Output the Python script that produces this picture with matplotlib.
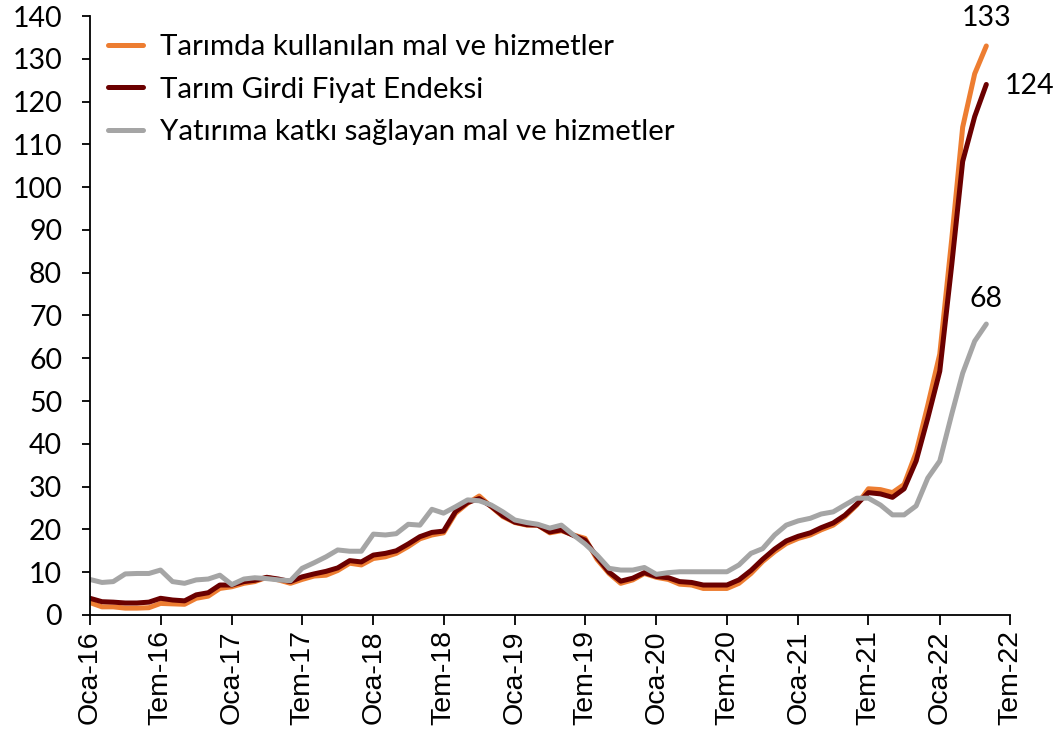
import matplotlib
matplotlib.use("Agg")
import matplotlib.pyplot as plt
import pandas as pd

# Monthly, Jan 2016 - May 2022 (annual % change)
months = pd.date_range("2016-01-01", periods=77, freq="MS")

tarimda_kullanilan = [
    2.9, 1.9, 1.9, 1.6, 1.6, 1.7, 2.7, 2.6, 2.5, 3.9, 4.4, 6.2, 6.6, 7.4, 7.8,
    8.8, 8.2, 7.4, 8.3, 9.1, 9.3, 10.4, 12.1, 11.7, 13.2, 13.6, 14.4, 16.0, 17.8,
    18.7, 19.2, 23.8, 26.1, 27.8, 25.3, 23.0, 21.6, 21.0, 21.0, 19.2, 19.7, 18.7,
    17.9, 13.0, 9.7, 7.4, 8.2, 9.7, 8.8, 8.3, 7.2, 7.0, 6.2, 6.2, 6.2, 7.4, 9.7,
    12.5, 14.8, 16.7, 17.9, 18.7, 19.9, 21.0, 23.0, 25.7, 29.5, 29.3, 28.6, 30.5,
    38.0, 49.0, 61.0, 88.0, 114.0, 126.5, 133.0,
]
tarim_gfe = [
    3.9, 3.1, 3.0, 2.8, 2.8, 3.0, 3.9, 3.5, 3.3, 4.7, 5.2, 7.0, 7.0, 7.8, 8.1,
    8.8, 8.4, 7.8, 8.9, 9.6, 10.2, 11.0, 12.7, 12.4, 14.0, 14.4, 15.0, 16.6, 18.3,
    19.3, 19.6, 24.2, 26.3, 27.2, 25.4, 23.2, 21.7, 21.1, 21.0, 19.4, 19.9, 18.6,
    17.5, 13.5, 10.0, 7.9, 8.6, 9.9, 9.0, 8.7, 7.8, 7.6, 7.0, 7.0, 7.0, 8.2, 10.4,
    13.0, 15.4, 17.3, 18.4, 19.2, 20.4, 21.5, 23.3, 25.9, 28.6, 28.3, 27.5, 29.5,
    36.0, 46.0, 57.0, 82.0, 106.0, 116.5, 124.0,
]
yatirima_katki = [
    8.3, 7.6, 7.8, 9.6, 9.7, 9.7, 10.5, 7.8, 7.4, 8.2, 8.4, 9.3, 7.1, 8.4, 8.7,
    8.5, 8.2, 8.0, 10.9, 12.2, 13.6, 15.2, 14.9, 14.9, 18.9, 18.7, 19.0, 21.2, 21.0,
    24.7, 23.8, 25.3, 26.9, 26.7, 25.7, 24.1, 22.2, 21.6, 21.2, 20.3, 21.0, 18.7,
    16.6, 14.0, 10.9, 10.5, 10.5, 11.1, 9.5, 9.9, 10.1, 10.1, 10.1, 10.1, 10.1, 11.7,
    14.4, 15.5, 18.7, 21.0, 22.0, 22.6, 23.6, 24.1, 25.7, 27.3, 27.3, 25.7, 23.4,
    23.4, 25.5, 32.0, 36.0, 47.0, 56.5, 64.0, 68.0,
]

series_names = [
    "Tarımda kullanılan mal ve hizmetler",
    "Tarım Girdi Fiyat Endeksi",
    "Yatırıma katkı sağlayan mal ve hizmetler",
]
colors = ["#ED7D31", "#6B0000", "#A5A5A5"]

tick_dates = pd.date_range("2016-01-01", "2022-07-01", freq="6MS")
tick_labels = ["Oca-16", "Tem-16", "Oca-17", "Tem-17", "Oca-18", "Tem-18", "Oca-19",
               "Tem-19", "Oca-20", "Tem-20", "Oca-21", "Tem-21", "Oca-22", "Tem-22"]

body_font = "Lato"

fig = plt.figure(figsize=(10.56, 7.38), dpi=100)
ax = fig.add_axes([0.0852, 0.1667, 0.8712, 0.8116])

for vals, name, c in zip([tarimda_kullanilan, tarim_gfe, yatirima_katki], series_names, colors):
    ax.plot(months, vals, color=c, lw=3.6, label=name, solid_capstyle="round", solid_joinstyle="round")

ax.set_xlim(tick_dates[0], tick_dates[-1])
ax.set_ylim(0, 140)
ax.set_yticks(range(0, 141, 10))
ax.set_xticks(tick_dates)
ax.set_xticklabels(tick_labels, rotation=90, fontsize=20.5, family="Liberation Sans")
for lbl in ax.get_yticklabels():
    lbl.set_family(body_font)
    lbl.set_fontsize(20.5)

for side in ["top", "right"]:
    ax.spines[side].set_visible(False)
for side in ["left", "bottom"]:
    ax.spines[side].set_linewidth(1.3)
ax.tick_params(axis="y", length=6, width=1.3, pad=14)
ax.tick_params(axis="x", length=7, width=1.3, pad=4)

# end labels
ax.annotate("133", (months[-1], tarimda_kullanilan[-1]), xytext=(0, 11), textcoords="offset points",
            ha="center", va="bottom", fontsize=20.5, family=body_font)
ax.annotate("124", (months[-1], tarim_gfe[-1]), xytext=(13, -1), textcoords="offset points",
            ha="left", va="center", fontsize=20.5, family=body_font)
ax.annotate("68", (months[-1], yatirima_katki[-1]), xytext=(0, 9), textcoords="offset points",
            ha="center", va="bottom", fontsize=20.5, family=body_font)

ax.legend(loc="upper left", bbox_to_anchor=(0.0, 1.0), frameon=False,
          prop={"family": body_font, "size": 21.2}, handlelength=1.19,
          handletextpad=0.58, labelspacing=0.56, borderaxespad=0.22)

fig.savefig("out.png", dpi=100)
